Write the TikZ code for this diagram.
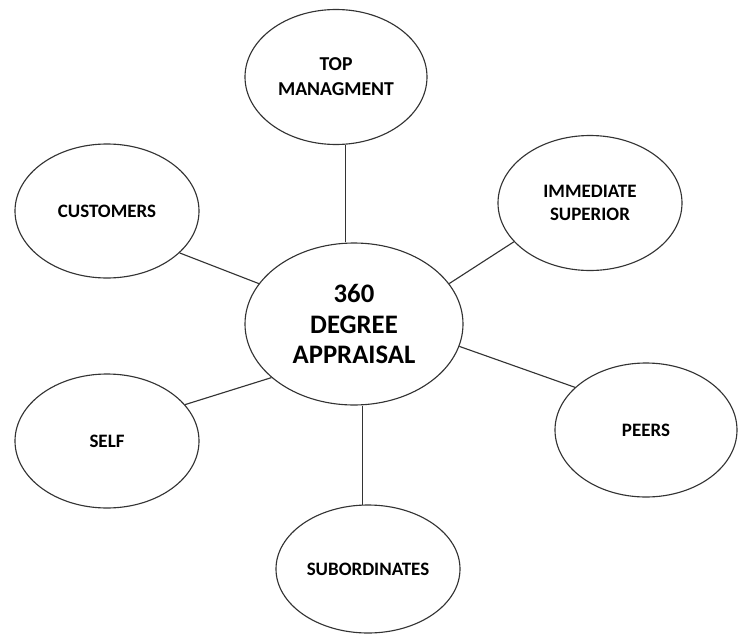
\documentclass[tikz,border=0pt]{standalone}
\usepackage{fontspec}
\setmainfont{Carlito}
\usepackage{tikz}
\usetikzlibrary{shapes.geometric}

\begin{document}
\begin{tikzpicture}[x=1cm, y=1cm,
    bubble/.style = {draw=black!80, line width=0.8pt, ellipse, inner sep=0pt,
        minimum width=4.6cm, minimum height=3.35cm, align=center,
        font=\bfseries\fontsize{13.5}{16.5}\selectfont},
    hub/.style = {bubble, minimum width=5.45cm, minimum height=4.05cm,
        font=\bfseries\fontsize{19}{22}\selectfont},
    link/.style = {draw=black!80, line width=0.8pt}]
	\useasboundingbox (0,0) rectangle (18.5,-15.875);
	% centre
	\node[hub] (appraisal) at (8.85, -8.10) {360\\DEGREE\\APPRAISAL};
	% sources of feedback
	\node[bubble, minimum width=4.55cm, minimum height=3.375cm,
	      font=\bfseries\fontsize{14}{17.8}\selectfont] (top) at (8.40, -1.925) {TOP\\MANAGMENT};
	\node[bubble] (customers) at (2.675, -5.275) {CUSTOMERS};
	\node[bubble, minimum height=3.375cm] (superior) at (14.75, -5.075) {IMMEDIATE\\SUPERIOR};
	\node[bubble, minimum width=4.55cm] (peers) at (16.15, -10.75) {PEERS};
	\node[bubble] (self) at (2.675, -11.025) {SELF};
	\node[bubble, minimum height=3.2cm] (subordinates) at (9.2, -14.225) {SUBORDINATES};
	% connectors
	\draw[link] (top.-82) -- (top.-82 |- appraisal.north);
	\draw[link] (customers.-30) -- (appraisal.157);
	\draw[link] (superior.207) -- (appraisal.23);
	\draw[link] (peers.149) -- (appraisal.-12);
	\draw[link] (self.25) -- (appraisal.213);
	\draw[link] (subordinates.95) -- (subordinates.95 |- appraisal.south);
\end{tikzpicture}
\end{document}
